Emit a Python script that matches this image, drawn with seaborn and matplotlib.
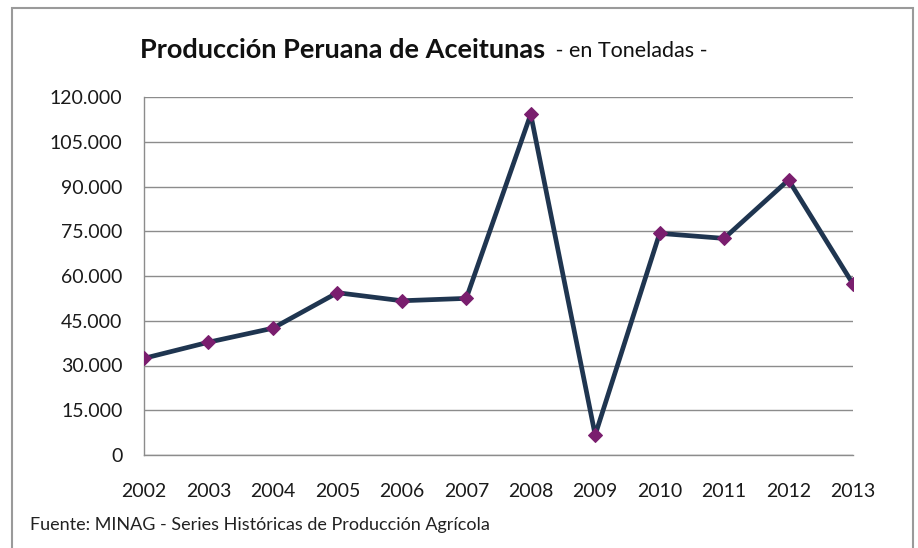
import matplotlib
matplotlib.use("Agg")
import matplotlib.pyplot as plt
import matplotlib.ticker as mticker
import matplotlib.patches as mpatches
import seaborn as sns
import pandas as pd

years = [2002, 2003, 2004, 2005, 2006, 2007, 2008, 2009, 2010, 2011, 2012, 2013]
production = [32400, 37800, 42500, 54400, 51700, 52500, 114200, 6700, 74300, 72600, 92200, 57300]
y_ticks = [0, 15000, 30000, 45000, 60000, 75000, 90000, 105000, 120000]

title_main = "Producción Peruana de Aceitunas"
title_sub = " - en Toneladas -"
source = "Fuente: MINAG - Series Históricas de Producción Agrícola"

sns.set_theme(style="white")
plt.rcParams["font.family"] = ["Lato", "DejaVu Sans"]

df = pd.DataFrame({"year": years, "prod": production})

fig = plt.figure(figsize=(9.18, 5.48), dpi=100)
ax = fig.add_axes([144 / 918, 1 - 455 / 548, (853 - 144) / 918, (455 - 97) / 548])

sns.lineplot(data=df, x="year", y="prod", ax=ax, color="#1F3550", linewidth=3.4,
             marker="D", markersize=7, markerfacecolor="#7A1E6E", markeredgecolor="#7A1E6E",
             zorder=3)

ax.set_xlim(2002, 2013)
ax.set_ylim(0, 120000)
ax.set_xticks(years)
ax.set_yticks(y_ticks)
ax.yaxis.set_major_formatter(mticker.FuncFormatter(lambda v, p: f"{int(v):,}".replace(",", ".")))
ax.grid(axis="y", color="#8C8C8C", linewidth=1.0)
ax.set_axisbelow(True)
for s in ["top", "right"]:
    ax.spines[s].set_visible(False)
for s in ["left", "bottom"]:
    ax.spines[s].set_color("#8C8C8C")
    ax.spines[s].set_linewidth(1.0)
ax.tick_params(axis="both", which="major", direction="out", length=6.5, width=1,
               color="#8C8C8C", labelsize=14, labelcolor="#1A1A1A")
ax.tick_params(axis="x", pad=14)
ax.tick_params(axis="y", pad=9)
ax.set_xlabel("")
ax.set_ylabel("")

main_txt = fig.text(140 / 918, 1 - 50 / 548, title_main, fontsize=19.5, fontweight="bold",
                    color="#111111", ha="left", va="center")
fig.canvas.draw()
bb = main_txt.get_window_extent()
fig.text(bb.x1 / 918 + 0.005, 1 - 51 / 548, title_sub, fontsize=15.5,
         color="#111111", ha="left", va="center")

fig.text(30 / 918, 1 - 525 / 548, source, fontsize=13, color="#222222", ha="left", va="center")

border = mpatches.Rectangle((12 / 918, -0.05), (913 - 12) / 918, 1.05 - 8 / 548,
                            transform=fig.transFigure, fill=False, edgecolor="#9A9A9A",
                            linewidth=1.5, clip_on=False)
fig.patches.append(border)

fig.savefig("out.png", dpi=100)
